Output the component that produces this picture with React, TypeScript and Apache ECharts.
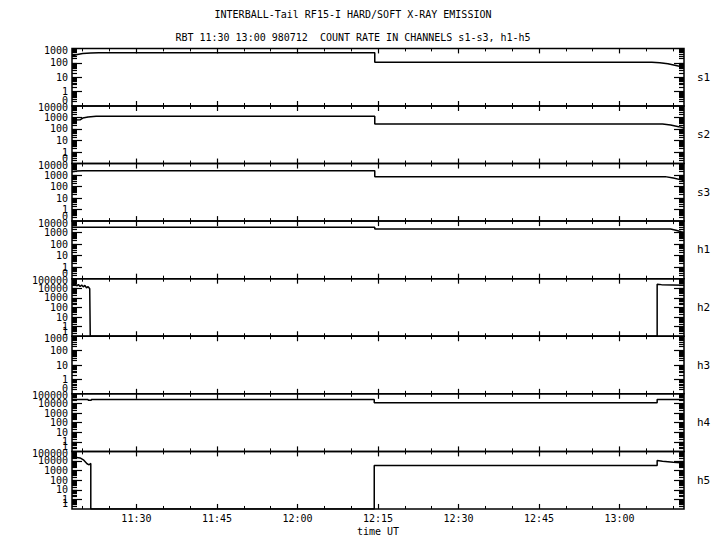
import React, { useEffect, useRef } from 'react';
import * as echarts from 'echarts';

// time in minutes since midnight (UT)
const TIME_MIN = 678; // 11:18
const TIME_MAX = 792; // 13:12
const MAJOR_TIMES = [690, 705, 720, 735, 750, 765, 780];
const MINOR_TIMES = [680, 685, 695, 700, 710, 715, 725, 730, 740, 745, 755, 760, 770, 775, 785, 790];

const CHANNELS = ['s1', 's2', 's3', 'h1', 'h2', 'h3', 'h4', 'h5'];
const TOP_DECADES = [3, 4, 4, 4, 5, 3, 5, 5];

const s1Times = [678, 679, 680, 681.5, 683, 734.4, 734.4, 786, 787.5, 789, 790.5, 792];
const s1Values = [300, 380, 440, 480, 500, 500, 108, 108, 100, 85, 65, 48];

const s2Times = [678, 679.5, 680, 681, 682.5, 734.4, 734.4, 788, 789.5, 791, 792];
const s2Values = [600, 620, 900, 1100, 1300, 1300, 270, 270, 220, 160, 120];

const s3Times = [678, 679, 680, 734.4, 734.4, 788.5, 790, 791.5, 792];
const s3Values = [1900, 2200, 2400, 2400, 730, 730, 550, 380, 320];

const h1Times = [678, 734.4, 734.4, 789.5, 790.5, 791.5, 792];
const h1Values = [3000, 3000, 2040, 2040, 1600, 1200, 1050];

const h2Times = [678, 678.3, 678.6, 678.9, 679.2, 679.5, 679.8, 680.1, 680.4, 680.7, 681.0, 681.3, 681.4, 681.4, 787.0, 787.0, 787.8, 792];
const h2Values = [30000, 22000, 28000, 18000, 25000, 15000, 22000, 14000, 20000, 11000, 15000, 9000, 9000, 0, 0, 27000, 24000, 21000];

const h3Times = [678, 792];
const h3Values = [1000, 1000];

const h4Times = [678, 681.0, 681.0, 681.6, 681.6, 734.3, 734.3, 787.0, 787.0, 792];
const h4Values = [25000, 25000, 21000, 21000, 25000, 25000, 11500, 11500, 25000, 25000];

const h5Times = [678, 678.6, 679.5, 680.2, 680.8, 681.2, 681.5, 681.5, 734.3, 734.3, 787.0, 787.0, 788, 790, 792];
const h5Values = [22000, 25000, 21000, 12000, 5200, 4000, 5600, 0, 0, 3300, 3300, 11000, 9500, 7500, 6200];

const SERIES_TIMES = [s1Times, s2Times, s3Times, h1Times, h2Times, h3Times, h4Times, h5Times];
const SERIES_VALUES = [s1Values, s2Values, s3Values, h1Values, h2Values, h3Values, h4Values, h5Values];

const TITLE = 'INTERBALL-Tail RF15-I HARD/SOFT X-RAY EMISSION';
const SUBTITLE = 'RBT 11:30 13:00 980712  COUNT RATE IN CHANNELS s1-s3, h1-h5';
const X_NAME = 'time UT';

const FONT = 'DejaVu Sans Mono';
const PANEL_TOP = 48.4;
const PANEL_H = 57.57;
const LEFT = 72;
const RIGHT = 36;
const AXES_PER_PANEL = 5;

const toY = (v: number) => Math.log10(Math.max(v, 0.1));
const fmtTime = (m: number) => {
  const h = Math.floor(m / 60);
  const mm = Math.round(m - h * 60);
  return `${h}:${mm < 10 ? '0' : ''}${mm}`;
};
const fmtCount = (v: number) => (v < -0.5 ? '0' : String(Math.pow(10, Math.round(v))));

function buildOption() {
  const grids: any[] = [];
  const xAxes: any[] = [];
  const yAxes: any[] = [];
  const series: any[] = [];
  const hidden = { show: false, onZero: false };
  const labelStyle = {
    show: true, margin: 4, color: '#000', fontFamily: FONT, fontSize: 10, lineHeight: 7,
    interval: 0, showMinLabel: true, showMaxLabel: true, hideOverlap: false, formatter: fmtCount,
  };

  CHANNELS.forEach((name, i) => {
    const T = TOP_DECADES[i];
    const ppd = PANEL_H / (T + 1);
    grids.push({
      left: LEFT,
      right: RIGHT,
      top: PANEL_TOP + i * PANEL_H,
      height: PANEL_H,
      show: true,
      borderColor: '#000',
      borderWidth: 1.5,
      backgroundColor: 'transparent',
    });
    const majorY: number[] = [];
    for (let d = 0; d < T; d++) majorY.push(d);
    const evenY = majorY.filter((d) => d % 2 === 0);
    const oddY = majorY.filter((d) => d % 2 === 1);
    const minorY: number[] = [];
    for (let d = -1; d < T; d++) for (let k = 2; k <= 9; k++) minorY.push(d + Math.log10(k));
    const edgeLabelY: number[] = [-1 + 5 / ppd, T - 2 / ppd];

    const xBase = {
      type: 'value', gridIndex: i, min: TIME_MIN, max: TIME_MAX,
      axisLine: hidden, splitLine: { show: false },
    };
    const isLast = i === CHANNELS.length - 1;
    xAxes.push({
      ...xBase, position: 'bottom',
      axisTick: { inside: true, length: 5, customValues: MAJOR_TIMES, lineStyle: { color: '#000', width: 1.2 } },
      axisLabel: isLast
        ? { show: true, customValues: MAJOR_TIMES, formatter: (v: number) => fmtTime(v), margin: 5, color: '#000', fontFamily: FONT, fontSize: 10 }
        : { show: false },
      name: isLast ? X_NAME : '',
      nameLocation: 'middle',
      nameGap: 18,
      nameTextStyle: { color: '#000', fontFamily: FONT, fontSize: 10 },
    });
    xAxes.push({
      ...xBase, position: 'bottom',
      axisTick: { inside: true, length: 3, customValues: MINOR_TIMES, lineStyle: { color: '#000', width: 1 } },
      axisLabel: { show: false },
    });
    xAxes.push({
      ...xBase, position: 'top',
      axisTick: { inside: true, length: 5, customValues: MAJOR_TIMES, lineStyle: { color: '#000', width: 1.2 } },
      axisLabel: { show: false },
    });
    xAxes.push({
      ...xBase, position: 'top',
      axisTick: { inside: true, length: 3, customValues: MINOR_TIMES, lineStyle: { color: '#000', width: 1 } },
      axisLabel: { show: false },
    });
    xAxes.push({
      ...xBase, position: 'top',
      axisTick: { show: false },
      axisLabel: { show: false },
    });

    const yBase = {
      type: 'value', gridIndex: i, min: -1, max: T,
      axisLine: hidden, splitLine: { show: false },
    };
    yAxes.push({
      ...yBase, position: 'left',
      axisTick: { inside: true, length: 10, customValues: majorY, lineStyle: { color: '#000', width: 1.2 } },
      axisLabel: { ...labelStyle, customValues: evenY },
    });
    yAxes.push({
      ...yBase, position: 'left',
      axisTick: { inside: true, length: 5, customValues: minorY, lineStyle: { color: '#000', width: 1.2 } },
      axisLabel: { ...labelStyle, customValues: oddY },
    });
    yAxes.push({
      ...yBase, position: 'left',
      axisTick: { show: false },
      axisLabel: { ...labelStyle, customValues: edgeLabelY },
    });
    yAxes.push({
      ...yBase, position: 'right',
      axisTick: { inside: true, length: 10, customValues: majorY, lineStyle: { color: '#000', width: 1.2 } },
      axisLabel: { show: false },
      name,
      nameLocation: 'middle',
      nameRotate: 0,
      nameGap: 13,
      nameTextStyle: { color: '#000', fontFamily: FONT, fontSize: 11, align: 'left', verticalAlign: 'middle' },
    });
    yAxes.push({
      ...yBase, position: 'right',
      axisTick: { inside: true, length: 5, customValues: minorY, lineStyle: { color: '#000', width: 1.2 } },
      axisLabel: { show: false },
    });

    const times = SERIES_TIMES[i];
    const values = SERIES_VALUES[i];
    series.push({
      type: 'line',
      name,
      xAxisIndex: i * AXES_PER_PANEL,
      yAxisIndex: i * AXES_PER_PANEL,
      symbol: 'none',
      showSymbol: false,
      clip: true,
      lineStyle: { color: '#000', width: 1.5 },
      data: times.map((t, j) => [t, toY(values[j])]),
    });
  });

  return {
    animation: false,
    backgroundColor: '#fff',
    grid: grids,
    xAxis: xAxes,
    yAxis: yAxes,
    series,
    graphic: [
      { type: 'text', x: 353, y: 14, style: { text: TITLE, align: 'center', verticalAlign: 'middle', fill: '#000', fontFamily: FONT, fontSize: 10 } },
      { type: 'text', x: 353, y: 37, style: { text: SUBTITLE, align: 'center', verticalAlign: 'middle', fill: '#000', fontFamily: FONT, fontSize: 10 } },
    ],
  };
}

export default function App() {
  const ref = useRef<HTMLDivElement>(null);
  useEffect(() => {
    document.body.style.margin = '0';
    if (!ref.current) return;
    const chart = echarts.init(ref.current, undefined, { renderer: 'svg' });
    chart.setOption(buildOption() as any);
    return () => chart.dispose();
  }, []);
  return <div ref={ref} style={{ width: 720, height: 550 }} />;
}
